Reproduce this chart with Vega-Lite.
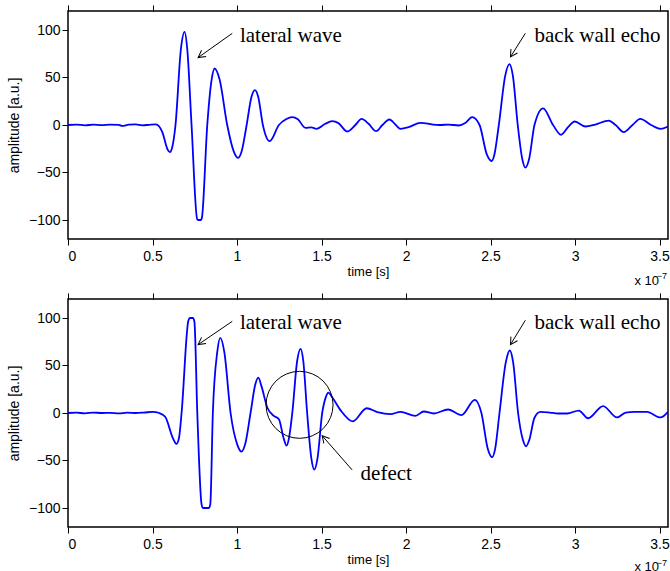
{
  "$schema": "https://vega.github.io/schema/vega-lite/v6.json",
  "padding": {"left": 6, "top": 3, "right": 0, "bottom": 0},
  "spacing": 2,
  "config": {
    "view": {"stroke": "black", "strokeWidth": 1.5},
    "axis": {
      "grid": false, "domain": false, "tickColor": "black", "tickSize": 6, "tickWidth": 1,
      "labelFont": "Liberation Sans", "labelFontSize": 14, "labelColor": "black",
      "titleFont": "Liberation Sans", "titleFontSize": 13, "titleFontWeight": "normal", "titleColor": "black"
    }
  },
  "datasets": {
    "top": [
      {"t":0,"a":0},{"t":0.05,"a":0.5},{"t":0.1,"a":-0.3},{"t":0.15,"a":0.3},{"t":0.2,"a":-0.2},{"t":0.25,"a":0.4},{"t":0.3,"a":0.2},{"t":0.32,"a":-1},{"t":0.36,"a":0.3},{"t":0.4,"a":0.6},{"t":0.44,"a":-0.3},{"t":0.48,"a":0.2},{"t":0.52,"a":0.6},
      {"t":0.558,"a":-7.5},{"t":0.59,"a":-26},{"t":0.603,"a":-28.5},{"t":0.616,"a":-24},{"t":0.636,"a":0},{"t":0.668,"a":80},{"t":0.69,"a":98},{"t":0.706,"a":79},{"t":0.731,"a":0},{"t":0.764,"a":-99},{"t":0.77,"a":-100},{"t":0.786,"a":-100},{"t":0.792,"a":-98},
      {"t":0.824,"a":0},{"t":0.85,"a":48},{"t":0.867,"a":59.5},{"t":0.897,"a":48},{"t":0.942,"a":0},{"t":0.981,"a":-28},{"t":1.007,"a":-34.7},{"t":1.027,"a":-28},{"t":1.057,"a":0},{"t":1.086,"a":30},{"t":1.106,"a":36.8},{"t":1.125,"a":30},{"t":1.153,"a":0},{"t":1.193,"a":-17},{"t":1.248,"a":0},
      {"t":1.29,"a":6},{"t":1.327,"a":8.2},{"t":1.36,"a":6},{"t":1.405,"a":-3},{"t":1.44,"a":-2.5},{"t":1.47,"a":-4},{"t":1.52,"a":1},{"t":1.563,"a":4},{"t":1.6,"a":2},{"t":1.652,"a":-6.8},{"t":1.7,"a":0},{"t":1.737,"a":6.5},{"t":1.78,"a":1},
      {"t":1.823,"a":-6.5},{"t":1.86,"a":0},{"t":1.902,"a":5.8},{"t":1.94,"a":0},{"t":1.967,"a":-4},{"t":2.016,"a":-2.3},{"t":2.085,"a":2.3},{"t":2.13,"a":1.5},{"t":2.16,"a":0.5},{"t":2.2,"a":0},{"t":2.25,"a":0.5},{"t":2.312,"a":-0.5},{"t":2.35,"a":2},{"t":2.391,"a":8.2},
      {"t":2.435,"a":0},{"t":2.478,"a":-31},{"t":2.506,"a":-37.9},{"t":2.523,"a":-31},{"t":2.549,"a":0},{"t":2.587,"a":52},{"t":2.612,"a":64},{"t":2.632,"a":52},{"t":2.661,"a":0},{"t":2.688,"a":-36},{"t":2.706,"a":-44.8},{"t":2.728,"a":-36},{"t":2.76,"a":0},{"t":2.811,"a":17.6},{"t":2.87,"a":0},{"t":2.917,"a":-10.3},{"t":2.96,"a":-2},
      {"t":2.998,"a":3.7},{"t":3.061,"a":-1.6},{"t":3.12,"a":0.5},{"t":3.199,"a":4.7},{"t":3.24,"a":0},{"t":3.288,"a":-7.5},{"t":3.34,"a":0},{"t":3.386,"a":6.5},{"t":3.45,"a":0},{"t":3.505,"a":-4},{"t":3.55,"a":-1.6}
    ],
    "bottom": [
      {"t":0,"a":0},{"t":0.05,"a":0.3},{"t":0.1,"a":-0.3},{"t":0.15,"a":0.5},{"t":0.2,"a":0},{"t":0.25,"a":0.2},{"t":0.3,"a":-0.4},{"t":0.35,"a":0.3},{"t":0.4,"a":0},{"t":0.45,"a":0.5},{"t":0.5,"a":1.2},{"t":0.54,"a":0},
      {"t":0.575,"a":-4},{"t":0.622,"a":-27},{"t":0.641,"a":-32.6},{"t":0.657,"a":-26},{"t":0.672,"a":0},{"t":0.712,"a":97},{"t":0.722,"a":100},{"t":0.739,"a":100},{"t":0.748,"a":96},{"t":0.765,"a":0},{"t":0.79,"a":-96},{"t":0.798,"a":-100},{"t":0.834,"a":-100},{"t":0.842,"a":-96},
      {"t":0.857,"a":0},{"t":0.883,"a":64},{"t":0.901,"a":79},{"t":0.925,"a":64},{"t":0.962,"a":0},{"t":1.001,"a":-33},{"t":1.027,"a":-40.7},{"t":1.048,"a":-33},{"t":1.08,"a":0},{"t":1.108,"a":30},{"t":1.126,"a":37.2},{"t":1.145,"a":28},{"t":1.179,"a":5.8},{"t":1.218,"a":-3},{"t":1.248,"a":-6.5},{"t":1.275,"a":-26},{"t":1.293,"a":-34.4},{"t":1.307,"a":-27},{"t":1.327,"a":0},
      {"t":1.356,"a":55},{"t":1.376,"a":67.5},{"t":1.392,"a":55},{"t":1.415,"a":0},{"t":1.44,"a":-48},{"t":1.457,"a":-59.5},{"t":1.476,"a":-48},{"t":1.504,"a":0},{"t":1.526,"a":17},{"t":1.54,"a":21.5},{"t":1.565,"a":16},{"t":1.612,"a":3},{"t":1.685,"a":-8.9},{"t":1.767,"a":5},{"t":1.83,"a":1},{"t":1.908,"a":-1.2},{"t":1.967,"a":1.2},
      {"t":2.056,"a":-3},{"t":2.105,"a":1.6},{"t":2.164,"a":-0.5},{"t":2.249,"a":3.7},{"t":2.328,"a":-2.3},{"t":2.407,"a":13.8},{"t":2.446,"a":0},{"t":2.484,"a":-38},{"t":2.509,"a":-46.6},{"t":2.527,"a":-38},{"t":2.553,"a":0},{"t":2.59,"a":53},{"t":2.614,"a":65.8},{"t":2.634,"a":53},{"t":2.663,"a":0},{"t":2.691,"a":-28},{"t":2.71,"a":-35.1},{"t":2.73,"a":-28},
      {"t":2.76,"a":-5},{"t":2.795,"a":1.2},{"t":2.85,"a":0.5},{"t":2.9,"a":-0.5},{"t":2.953,"a":-0.5},{"t":3.022,"a":2.6},{"t":3.077,"a":-5.5},{"t":3.166,"a":7.3},{"t":3.248,"a":-4.7},{"t":3.3,"a":0.5},{"t":3.35,"a":1.2},{"t":3.426,"a":1.2},{"t":3.505,"a":-4.7},{"t":3.55,"a":1.2}
    ],
    "labels": [
      {"panel":"top","t":1.017,"a":87.7,"text":"lateral wave"},
      {"panel":"top","t":2.76,"a":87.7,"text":"back wall echo"},
      {"panel":"bottom","t":1.017,"a":88.8,"text":"lateral wave"},
      {"panel":"bottom","t":2.76,"a":88.8,"text":"back wall echo"},
      {"panel":"bottom","t":1.731,"a":-70.4,"text":"defect"}
    ],
    "arrows": [
      {"panel":"top","name":"lateral","t":0.972,"a":96.5,"t2":0.77,"a2":71},
      {"panel":"top","name":"back","t":2.706,"a":96.5,"t2":2.618,"a2":71.7},
      {"panel":"bottom","name":"lateral","t":0.972,"a":96.5,"t2":0.77,"a2":72},
      {"panel":"bottom","name":"back","t":2.706,"a":97.6,"t2":2.618,"a2":72},
      {"panel":"bottom","name":"defect","t":1.681,"a":-59.9,"t2":1.504,"a2":-23.9}
    ],
    "circles": [
      {"panel":"bottom","t":1.37,"a":8.6}
    ]
  },
  "vconcat": [
    {
      "width": 600, "height": 228,
      "resolve": {"axis": {"x": "independent"}},
      "layer": [
        {
          "data": {"name": "top"},
          "mark": {"type": "line", "color": "#0000ff", "strokeWidth": 1.8, "interpolate": "monotone", "clip": true},
          "encoding": {
            "x": {"field": "t", "type": "quantitative", "scale": {"domain": [0, 3.55], "nice": false, "zero": false},
                  "axis": {"orient": "bottom", "title": "time [s]", "values": [0,0.5,1,1.5,2,2.5,3,3.5], "format": "~g", "labelPadding": 4, "titlePadding": 2}},
            "y": {"field": "a", "type": "quantitative", "scale": {"domain": [-120, 120], "nice": false},
                  "axis": {"title": "amplitude [a.u.]", "titleFontSize": 14, "values": [-100,-50,0,50,100], "labelPadding": 2, "titlePadding": 7}}
          }
        },
        {
          "data": {"name": "labels"},
          "transform": [{"filter": "datum.panel == 'top'"}],
          "mark": {"type": "text", "font": "Liberation Serif", "fontSize": 21, "align": "left", "baseline": "alphabetic", "color": "black"},
          "encoding": {
            "x": {"field": "t", "type": "quantitative", "axis": {"orient": "top", "labels": false, "title": null, "values": [0,0.5,1,1.5,2,2.5,3,3.5]}},
            "y": {"field": "a", "type": "quantitative"},
            "text": {"field": "text"}
          }
        },
        {
          "data": {"name": "arrows"},
          "transform": [{"filter": "datum.panel == 'top'"}],
          "mark": {"type": "rule", "color": "black", "strokeWidth": 1},
          "encoding": {
            "x": {"field": "t", "type": "quantitative", "axis": null},
            "y": {"field": "a", "type": "quantitative"},
            "x2": {"field": "t2"},
            "y2": {"field": "a2"}
          }
        },
        {
          "data": {"name": "arrows"},
          "transform": [{"filter": "datum.panel == 'top' && datum.name == 'lateral'"}],
          "mark": {"type": "point", "shape": "M -0.55 1 L 0 0 L 0.55 1", "size": 196, "angle": 234, "filled": false, "color": "black", "strokeWidth": 1, "opacity": 1},
          "encoding": {
            "x": {"field": "t2", "type": "quantitative", "axis": null},
            "y": {"field": "a2", "type": "quantitative"}
          }
        },
        {
          "data": {"name": "arrows"},
          "transform": [{"filter": "datum.panel == 'top' && datum.name == 'back'"}],
          "mark": {"type": "point", "shape": "M -0.55 1 L 0 0 L 0.55 1", "size": 196, "angle": 212, "filled": false, "color": "black", "strokeWidth": 1, "opacity": 1},
          "encoding": {
            "x": {"field": "t2", "type": "quantitative", "axis": null},
            "y": {"field": "a2", "type": "quantitative"}
          }
        },
        {
          "data": {"values": [{"s": "x 10"}]},
          "mark": {"type": "text", "font": "Liberation Sans", "fontSize": 13, "align": "right", "baseline": "alphabetic", "dy": 46, "dx": -9, "color": "black"},
          "encoding": {
            "x": {"datum": 3.55, "type": "quantitative", "axis": null},
            "y": {"datum": -120, "type": "quantitative"},
            "text": {"field": "s"}
          }
        },
        {
          "data": {"values": [{"s": "\u22127"}]},
          "mark": {"type": "text", "font": "Liberation Sans", "fontSize": 9, "align": "right", "baseline": "alphabetic", "dy": 40, "dx": -1, "color": "black"},
          "encoding": {
            "x": {"datum": 3.55, "type": "quantitative", "axis": null},
            "y": {"datum": -120, "type": "quantitative"},
            "text": {"field": "s"}
          }
        }
      ]
    },
    {
      "width": 600, "height": 228,
      "resolve": {"axis": {"x": "independent"}},
      "layer": [
        {
          "data": {"name": "bottom"},
          "mark": {"type": "line", "color": "#0000ff", "strokeWidth": 1.8, "interpolate": "monotone", "clip": true},
          "encoding": {
            "x": {"field": "t", "type": "quantitative", "scale": {"domain": [0, 3.55], "nice": false, "zero": false},
                  "axis": {"orient": "bottom", "title": "time [s]", "values": [0,0.5,1,1.5,2,2.5,3,3.5], "format": "~g", "labelPadding": 4, "titlePadding": 2}},
            "y": {"field": "a", "type": "quantitative", "scale": {"domain": [-120, 120], "nice": false},
                  "axis": {"title": "amplitude [a.u.]", "titleFontSize": 14, "values": [-100,-50,0,50,100], "labelPadding": 2, "titlePadding": 7}}
          }
        },
        {
          "data": {"name": "labels"},
          "transform": [{"filter": "datum.panel == 'bottom'"}],
          "mark": {"type": "text", "font": "Liberation Serif", "fontSize": 21, "align": "left", "baseline": "alphabetic", "color": "black"},
          "encoding": {
            "x": {"field": "t", "type": "quantitative", "axis": {"orient": "top", "labels": false, "title": null, "values": [0,0.5,1,1.5,2,2.5,3,3.5]}},
            "y": {"field": "a", "type": "quantitative"},
            "text": {"field": "text"}
          }
        },
        {
          "data": {"name": "arrows"},
          "transform": [{"filter": "datum.panel == 'bottom'"}],
          "mark": {"type": "rule", "color": "black", "strokeWidth": 1},
          "encoding": {
            "x": {"field": "t", "type": "quantitative", "axis": null},
            "y": {"field": "a", "type": "quantitative"},
            "x2": {"field": "t2"},
            "y2": {"field": "a2"}
          }
        },
        {
          "data": {"name": "arrows"},
          "transform": [{"filter": "datum.panel == 'bottom' && datum.name == 'lateral'"}],
          "mark": {"type": "point", "shape": "M -0.55 1 L 0 0 L 0.55 1", "size": 196, "angle": 234, "filled": false, "color": "black", "strokeWidth": 1, "opacity": 1},
          "encoding": {
            "x": {"field": "t2", "type": "quantitative", "axis": null},
            "y": {"field": "a2", "type": "quantitative"}
          }
        },
        {
          "data": {"name": "arrows"},
          "transform": [{"filter": "datum.panel == 'bottom' && datum.name == 'back'"}],
          "mark": {"type": "point", "shape": "M -0.55 1 L 0 0 L 0.55 1", "size": 196, "angle": 212, "filled": false, "color": "black", "strokeWidth": 1, "opacity": 1},
          "encoding": {
            "x": {"field": "t2", "type": "quantitative", "axis": null},
            "y": {"field": "a2", "type": "quantitative"}
          }
        },
        {
          "data": {"name": "arrows"},
          "transform": [{"filter": "datum.panel == 'bottom' && datum.name == 'defect'"}],
          "mark": {"type": "point", "shape": "M -0.55 1 L 0 0 L 0.55 1", "size": 196, "angle": 319, "filled": false, "color": "black", "strokeWidth": 1, "opacity": 1},
          "encoding": {
            "x": {"field": "t2", "type": "quantitative", "axis": null},
            "y": {"field": "a2", "type": "quantitative"}
          }
        },
        {
          "data": {"name": "circles"},
          "mark": {"type": "point", "shape": "circle", "size": 4490, "filled": false, "color": "black", "strokeWidth": 1, "opacity": 1},
          "encoding": {
            "x": {"field": "t", "type": "quantitative", "axis": null},
            "y": {"field": "a", "type": "quantitative"}
          }
        },
        {
          "data": {"values": [{"s": "x 10"}]},
          "mark": {"type": "text", "font": "Liberation Sans", "fontSize": 13, "align": "right", "baseline": "alphabetic", "dy": 44, "dx": -9, "color": "black"},
          "encoding": {
            "x": {"datum": 3.55, "type": "quantitative", "axis": null},
            "y": {"datum": -120, "type": "quantitative"},
            "text": {"field": "s"}
          }
        },
        {
          "data": {"values": [{"s": "\u22127"}]},
          "mark": {"type": "text", "font": "Liberation Sans", "fontSize": 9, "align": "right", "baseline": "alphabetic", "dy": 39, "dx": -1, "color": "black"},
          "encoding": {
            "x": {"datum": 3.55, "type": "quantitative", "axis": null},
            "y": {"datum": -120, "type": "quantitative"},
            "text": {"field": "s"}
          }
        }
      ]
    }
  ]
}
